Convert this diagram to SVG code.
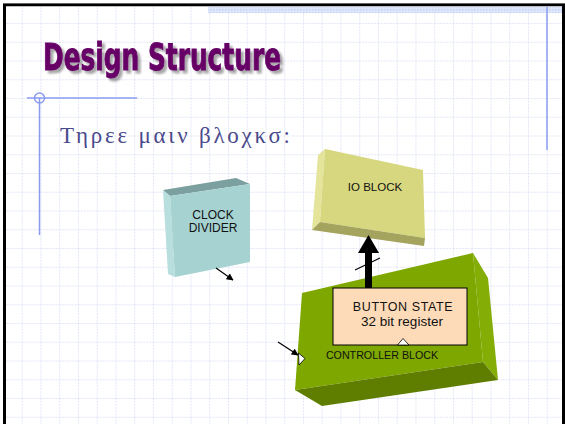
<svg xmlns="http://www.w3.org/2000/svg" width="565" height="424" viewBox="0 0 565 424">
  <defs>
    <pattern id="grid" patternUnits="userSpaceOnUse" x="21.7" y="23" width="18.75" height="18.75">
      <path d="M0 0.5H18.75M0.5 0V18.75" fill="none" stroke="#e3e6f7" stroke-width="1" stroke-dasharray="2 1"/>
    </pattern>
    <pattern id="hatch" patternUnits="userSpaceOnUse" width="3" height="3">
      <rect width="3" height="3" fill="#dde6fb"/>
      <rect width="1.5" height="1.5" fill="#c6d3f3"/>
    </pattern>
    <marker id="tip" viewBox="0 0 10 10" refX="9" refY="5" markerWidth="7" markerHeight="7" orient="auto" markerUnits="userSpaceOnUse">
      <path d="M0 0L10 5L0 10Z" fill="#000"/>
    </marker>
    <filter id="shadow" x="-5%" y="-20%" width="115%" height="150%">
      <feGaussianBlur in="SourceAlpha" stdDeviation="1.2"/>
      <feOffset dx="2.5" dy="2.5"/>
      <feComponentTransfer><feFuncA type="linear" slope="0.35"/></feComponentTransfer>
      <feMerge><feMergeNode/><feMergeNode in="SourceGraphic"/></feMerge>
    </filter>
  </defs>
  <style>
    .lbl { font-family: "Liberation Sans", Arial, sans-serif; fill: #111; text-anchor: middle; }
    .deco { stroke: #8a9cf0; stroke-width: 1.5; fill: none; }
  </style>

  <!-- slide background -->
  <rect width="565" height="424" fill="#fff"/>
  <rect x="5" y="6" width="558" height="418" fill="url(#grid)"/>
  <rect x="208" y="7" width="355" height="6" fill="url(#hatch)"/>

  <!-- frame -->
  <line x1="3" y1="3.5" x2="565" y2="3.5" stroke="#888" stroke-width="1"/>
  <line x1="3" y1="5" x2="565" y2="5" stroke="#000" stroke-width="2.5"/>
  <line x1="4.5" y1="4" x2="4.5" y2="424" stroke="#000" stroke-width="3"/>
  <line x1="563.5" y1="4" x2="563.5" y2="424" stroke="#000" stroke-width="3"/>

  <!-- decorative rules -->
  <line class="deco" x1="547" y1="7" x2="547" y2="150"/>
  <line class="deco" x1="27" y1="98" x2="137" y2="98"/>
  <line class="deco" x1="39.5" y1="98" x2="39.5" y2="235"/>
  <circle class="deco" cx="39.5" cy="98" r="5"/>

  <!-- title -->
  <text x="43" y="70" font-family="'DejaVu Sans Condensed', 'DejaVu Sans', sans-serif" font-weight="bold" font-size="37" fill="#660066" stroke="#660066" stroke-width="0.9" textLength="238" lengthAdjust="spacingAndGlyphs" filter="url(#shadow)">Design Structure</text>

  <!-- subtitle -->
  <text x="60" y="143" font-family="'Liberation Serif', 'DejaVu Serif', serif" font-size="23" fill="#4a4a8c" textLength="230" lengthAdjust="spacing">Τηρεε μαιν βλοχκσ:</text>

  <!-- clock divider -->
  <g id="clock-divider">
    <polygon points="163,190 236,178 250,184 170,196" fill="#7c9f9f"/>
    <polygon points="163,190 170,196 175,277 168,274" fill="#b8dede"/>
    <polygon points="170,196 250,184 250,262 175,277" fill="#a6d2d2"/>
    <text class="lbl" x="213" y="219" font-size="12">CLOCK</text>
    <text class="lbl" x="213" y="232" font-size="12">DIVIDER</text>
  </g>

  <!-- io block -->
  <g id="io-block">
    <polygon points="318,155 325,149 320,222 312,230" fill="#e4e49a"/>
    <polygon points="325,149 423,170 425,238 320,222" fill="#d7d77f"/>
    <polygon points="312,230 320,222 425,238 424,246" fill="#a4a45e"/>
    <text class="lbl" x="375" y="191" font-size="11.5">IO BLOCK</text>
  </g>

  <!-- controller block -->
  <g id="controller-block">
    <polygon points="473,253 488,278 498,380 483,362" fill="#84ad06"/>
    <polygon points="302,293 473,253 483,362 295,390" fill="#7ea700"/>
    <polygon points="295,390 483,362 498,380 322,406" fill="#5f7e00"/>
    <text class="lbl" x="382" y="359" font-size="10.7">CONTROLLER BLOCK</text>
    <polygon points="298.5,353 305,358.5 299,365" fill="#fff" stroke="#000" stroke-width="0.8"/>
  </g>

  <!-- button state register -->
  <g id="button-state">
    <rect x="333" y="288" width="134" height="57" fill="#fddbb8" stroke="#000" stroke-width="1"/>
    <text class="lbl" x="403" y="311" font-size="12.5" letter-spacing="0.6">BUTTON STATE</text>
    <text class="lbl" x="402" y="326" font-size="13.5">32 bit register</text>
    <polygon points="397.5,345 403,338.5 409,345" fill="#fff" stroke="#000" stroke-width="0.8"/>
  </g>

  <!-- connectors -->
  <g id="connectors">
    <line x1="368.5" y1="288" x2="368.5" y2="250" stroke="#000" stroke-width="7"/>
    <polygon points="358,253 368.5,235 379,253" fill="#000"/>
    <line x1="355" y1="270" x2="380" y2="258" stroke="#000" stroke-width="1.2"/>
    <line x1="216" y1="268" x2="233" y2="280" stroke="#000" stroke-width="1.2" marker-end="url(#tip)"/>
    <line x1="278" y1="342" x2="298" y2="355" stroke="#000" stroke-width="1.2" marker-end="url(#tip)"/>
  </g>
</svg>
